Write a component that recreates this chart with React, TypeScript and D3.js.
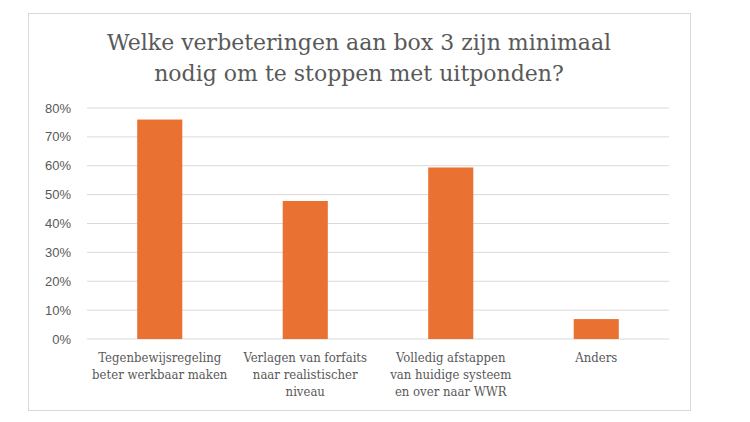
import * as d3 from 'd3'

const categories = [
  ['Tegenbewijsregeling', 'beter werkbaar maken'],
  ['Verlagen van forfaits', 'naar realistischer', 'niveau'],
  ['Volledig afstappen', 'van huidige systeem', 'en over naar WWR'],
  ['Anders'],
]
const values = [0.76, 0.478, 0.594, 0.069]
const yTicks = [0, 0.1, 0.2, 0.3, 0.4, 0.5, 0.6, 0.7, 0.8]
const titleLines = ['Welke verbeteringen aan box 3 zijn minimaal', 'nodig om te stoppen met uitponden?']

const W = 750
const H = 422
const box = { x: 28, y: 13, w: 662, h: 397 }
const plot = { left: 87, right: 669, top: 108, bottom: 339 }
const textColor = '#595959'

export default function App() {
  const x = d3
    .scaleBand<number>()
    .domain(d3.range(categories.length))
    .range([plot.left, plot.right])
    .paddingInner(0.69)
    .paddingOuter(0.345)

  const y = d3.scaleLinear().domain([0, 0.8]).range([plot.bottom, plot.top])
  const fmt = d3.format('.0%')

  return (
    <svg width={W} height={H} style={{ position: 'absolute', left: 0, top: 0 }}>
      <rect x={box.x + 0.5} y={box.y + 0.5} width={box.w} height={box.h} fill="#fff" stroke="#d9d9d9" />

      {titleLines.map((t, i) => (
        <text
          key={i}
          x={box.x + box.w / 2}
          y={50 + i * 31}
          textAnchor="middle"
          fontFamily="'DejaVu Serif', serif"
          fontSize={22}
          fill={textColor}
        >
          {t}
        </text>
      ))}

      {/* gridlines + y labels */}
      {yTicks.map((t) => (
        <g key={t}>
          <line x1={plot.left} x2={plot.right} y1={y(t)} y2={y(t)} stroke="#d9d9d9" strokeWidth={1} />
          <text
            x={71}
            y={y(t)}
            dy="0.35em"
            textAnchor="end"
            fontFamily="'Liberation Sans', Arial, sans-serif"
            fontSize={13}
            fill={textColor}
          >
            {fmt(t)}
          </text>
        </g>
      ))}

      {values.map((v, i) => (
        <rect key={i} x={x(i)} y={y(v)} width={x.bandwidth()} height={y(0) - y(v)} fill="#E97132" />
      ))}

      {categories.map((lines, i) => (
        <text
          key={i}
          textAnchor="middle"
          fontFamily="'DejaVu Serif Condensed', 'DejaVu Serif', serif"
          fontStretch="condensed"
          fontSize={13}
          fill={textColor}
        >
          {lines.map((l, j) => (
            <tspan key={j} x={(x(i) ?? 0) + x.bandwidth() / 2} y={362 + j * 17}>
              {l}
            </tspan>
          ))}
        </text>
      ))}
    </svg>
  )
}
